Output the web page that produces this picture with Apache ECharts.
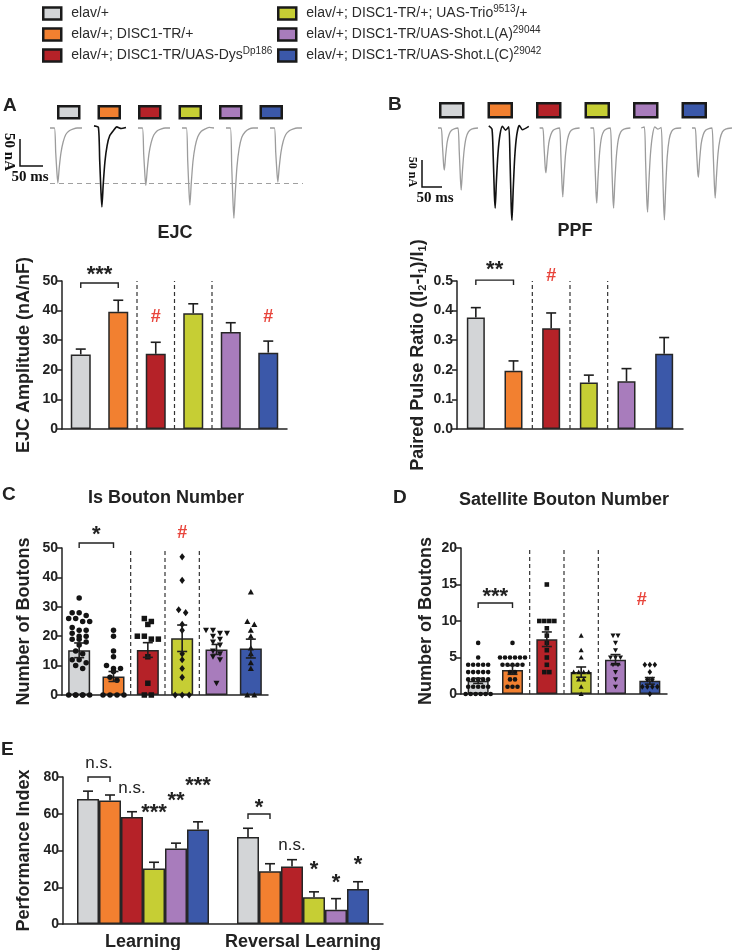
<!DOCTYPE html>
<html>
<head>
<meta charset="utf-8">
<script src="https://cdn.jsdelivr.net/npm/echarts@6/dist/echarts.min.js"></script>
<style>
html, body { margin: 0; padding: 0; background: #fff; }
#chart { width: 741px; height: 950px; }
</style>
</head>
<body>
<div id="chart"></div>
<script>
const FONT = 'Liberation Sans, Arial, sans-serif';

// genotypes (^...^ marks a superscript)
const genotypes = [
  'elav/+',
  'elav/+; DISC1-TR/+',
  'elav/+; DISC1-TR/UAS-Dys^Dp186^',
  'elav/+; DISC1-TR/+; UAS-Trio^9513^/+',
  'elav/+; DISC1-TR/UAS-Shot.L(A)^29044^',
  'elav/+; DISC1-TR/UAS-Shot.L(C)^29042^'
];
const palette = ['#d3d5d7', '#f28030', '#b52228', '#c6ce34', '#a87cbc', '#3b58a9'];

// A - EJC amplitude (nA/nF)
const ejcMean = [25.2, 39.6, 25.4, 39.1, 32.8, 25.8];
const ejcSem = [1.8, 3.9, 3.9, 3.2, 3.1, 3.9];
// A - example traces (ms, nA)
const ejcTime = [0, 10, 13, 16, 18, 21, 25, 30, 36, 44, 52, 62, 73];
const ejcTraces = [
  [0, 0, -45, -85, -102, -74, -46, -26, -12, -5, -2, 0, 0],
  [4, 1, -60, -120, -146, -105, -62, -32, -14, -5, 2, -1, 1],
  [0, 0, -48, -90, -106, -78, -48, -27, -13, -5, -2, 0, 0],
  [0, 0, -60, -118, -143, -104, -62, -34, -16, -6, -2, 1, 0],
  [0, 0, -70, -138, -167, -122, -72, -38, -17, -7, -2, 0, 0],
  [0, 0, -44, -84, -100, -73, -45, -25, -12, -5, -2, 0, 0]
];

// B - paired pulse ratio
const ppfMean = [0.377, 0.197, 0.340, 0.157, 0.161, 0.254];
const ppfSem = [0.033, 0.033, 0.052, 0.025, 0.043, 0.055];
const ppfTime = [0, 8, 11, 14, 16, 19, 23, 28, 34, 42, 50, 53, 56, 58, 61, 65, 70, 76, 84, 100];
const ppfTraces = [
  [0, 0, -30, -65, -75, -50, -25, -11, -4, -1, 0, -40, -90, -111, -78, -42, -18, -7, -2, 0],
  [4, -2, -50, -120, -143, -95, -45, -12, 3, -4, 2, -55, -140, -165, -110, -50, -12, 5, -3, 3],
  [0, 0, -32, -70, -80, -54, -27, -12, -4, -1, 0, -45, -100, -123, -86, -46, -20, -7, -2, 0],
  [0, 0, -55, -115, -134, -90, -44, -16, -5, -1, 0, -55, -120, -143, -98, -50, -20, -7, -2, 0],
  [0, 2, -60, -128, -150, -100, -48, -14, 2, -2, 1, -60, -135, -164, -110, -52, -20, -6, -1, 0],
  [0, 0, -35, -76, -88, -58, -28, -12, -4, -1, 0, -45, -102, -125, -88, -46, -20, -7, -2, 0]
];

// C - Is bouton number
const isMean = [15.2, 6.3, 15.3, 19.3, 15.5, 15.8];
const isSem = [2.5, 1.7, 2.5, 4.5, 1.7, 3.2];
const isPoints = [
  [33, 28, 28, 27, 26, 26, 25, 25, 23, 22, 22, 21, 20, 20, 19, 19, 18, 17, 15, 14, 12, 12, 11, 10, 9, 0, 0, 0, 0, 0, 0],
  [22, 20, 15, 13, 10, 9, 9, 8, 6, 5, 0, 0, 0, 0],
  [26, 25, 24, 20, 20, 19, 19, 13, 4, 0, 0],
  [47, 39, 29, 28, 24, 22, 14, 12, 9, 6, 0, 0, 0],
  [22, 22, 21, 21, 20, 19, 18, 17, 15, 14, 13, 12, 4],
  [35, 25, 24, 22, 20, 16, 14, 11, 9, 0, 0]
];

// D - satellite bouton number
const satMean = [1.8, 3.3, 7.5, 3.0, 4.7, 1.8];
const satSem = [0.35, 0.6, 1.0, 0.7, 0.7, 0.45];
const satPoints = [
  [7, 5, 4, 4, 4, 4, 4, 3, 3, 3, 3, 3, 2, 2, 2, 2, 2, 1, 1, 1, 1, 1, 0, 0, 0, 0, 0, 0],
  [7, 5, 5, 5, 5, 5, 5, 4, 4, 4, 4, 4, 3, 3, 2, 2, 1, 1, 1],
  [15, 10, 10, 10, 10, 9, 8, 7, 6, 5, 4, 3, 3],
  [8, 6, 5, 3, 3, 3, 3, 2, 2, 1, 0],
  [8, 8, 7, 6, 5, 5, 5, 4, 4, 3, 2, 1],
  [4, 4, 4, 3, 2, 2, 1, 1, 1, 1, 0]
];

// E - olfactory learning
const phases = ['Learning', 'Reversal Learning'];
const piMean = [[68.0, 47.3], [67.2, 28.7], [58.2, 31.3], [30.2, 14.6], [41.1, 7.7], [51.4, 19.0]];
const piSem = [[4.3, 4.8], [3.0, 4.1], [2.9, 3.7], [3.4, 2.9], [2.9, 6.1], [4.2, 4.0]];

// significance marks (value units)
const ejcNotes = [{c1: 0, c2: 1, y: 49.3, ty: 52.0, text: '***'}, {c: 2, ty: 37.8, text: '#'}, {c: 5, ty: 37.8, text: '#'}];
const ppfNotes = [{c1: 0, c2: 1, y: 0.503, ty: 0.537, text: '**'}, {c: 2, ty: 0.517, text: '#'}];
const isNotes = [{c1: 0, c2: 1, y: 51.7, ty: 54.4, text: '*'}, {c: 3, ty: 55.1, text: '#'}];
const satNotes = [{c1: 0, c2: 1, y: 12.47, ty: 13.3, text: '***'}, {c: 5, dx: -8, ty: 12.9, text: '#'}];
const piNotes = [
  {c1: 0, g1: 0, c2: 0, g2: 1, y: 80, ty: 87.3, text: 'n.s.'},
  {c: 0, g: 2, ty: 73.7, text: 'n.s.'}, {c: 0, g: 3, ty: 60.4, text: '***'},
  {c: 0, g: 4, ty: 66.9, text: '**'}, {c: 0, g: 5, ty: 75.1, text: '***'},
  {c1: 1, g1: 0, c2: 1, g2: 1, y: 59.9, ty: 63.1, text: '*'},
  {c: 1, g: 2, ty: 42.7, text: 'n.s.'}, {c: 1, g: 3, ty: 29.4, text: '*'},
  {c: 1, g: 4, ty: 22.3, text: '*'}, {c: 1, g: 5, ty: 32.1, text: '*'}
];
const dividerAfter = [1, 2, 3];

const grids = [];
const xAxes = [];
const yAxes = [];
const series = [];

function richName(name) {
  return name.split('^').map((p, i) => (i % 2 ? '{sup|' + p + '}' : p)).join('');
}

function catAxis(k, data, showLabel) {
  return {
    type: 'category', gridIndex: k, data,
    axisLine: {lineStyle: {color: '#222', width: 1.5}},
    axisTick: {alignWithLabel: true, length: 5, lineStyle: {color: '#222', width: 1.5}},
    axisLabel: {show: showLabel, fontSize: 18, fontWeight: 'bold', color: '#222', margin: 9, interval: 0},
    splitLine: {show: false}
  };
}

function valAxis(k, o) {
  return {
    type: 'value', gridIndex: k, min: 0, max: o.max, interval: o.step,
    name: o.name, nameLocation: 'middle', nameGap: o.gap, nameMoveOverlap: false,
    nameTextStyle: {fontSize: 18, fontWeight: 'bold', color: '#222', fontFamily: FONT,
      rich: {sub: {fontSize: 11, fontWeight: 'bold', color: '#222', padding: [8, 0, 0, 0]}}},
    axisLine: {show: true, lineStyle: {color: '#222', width: 1.5}},
    axisTick: {show: true, length: 5, lineStyle: {color: '#222', width: 1.5}},
    axisLabel: {fontSize: 14, fontWeight: 'bold', color: '#222', margin: 4, formatter: o.fmt},
    splitLine: {show: false}
  };
}

function xOf(api, c, g, barW) {
  return api.coord([c, 0])[0] + (g == null ? 0 : (g - 2.5) * barW);
}

function errorSeries(k, rows, both, barW) {
  return {
    type: 'custom', xAxisIndex: k, yAxisIndex: k, z: 4, silent: true, data: rows,
    renderItem(params, api) {
      const c = api.value(0), m = api.value(1), s = api.value(2);
      const x = xOf(api, c, barW ? api.value(3) : null, barW);
      const yt = api.coord([c, m + s])[1];
      const yb = api.coord([c, both ? m - s : m])[1];
      const st = {stroke: '#1e1e1e', lineWidth: 1.6};
      const kids = [
        {type: 'line', shape: {x1: x, y1: yt, x2: x, y2: yb}, style: st},
        {type: 'line', shape: {x1: x - 5, y1: yt, x2: x + 5, y2: yt}, style: st}
      ];
      if (both) kids.push({type: 'line', shape: {x1: x - 5, y1: yb, x2: x + 5, y2: yb}, style: st});
      return {type: 'group', children: kids};
    }
  };
}

function dividerSeries(k, max) {
  return {
    type: 'custom', xAxisIndex: k, yAxisIndex: k, z: 1, silent: true,
    data: dividerAfter.map(b => [b, max]),
    renderItem(params, api) {
      const b = api.value(0);
      const x = (api.coord([b, 0])[0] + api.coord([b + 1, 0])[0]) / 2;
      return {
        type: 'line',
        shape: {x1: x, y1: api.coord([b, 0])[1], x2: x, y2: api.coord([b, max])[1]},
        style: {stroke: '#333', lineWidth: 1.2, lineDash: [4, 3]}
      };
    }
  };
}

function noteSeries(k, notes, barW) {
  return {
    type: 'custom', xAxisIndex: k, yAxisIndex: k, z: 5, silent: true,
    data: notes.map(n => [n.c != null ? n.c : n.c1, n.ty]),
    renderItem(params, api) {
      const n = notes[params.dataIndex];
      const kids = [];
      let x;
      if (n.c1 != null) {
        const x1 = xOf(api, n.c1, n.g1, barW), x2 = xOf(api, n.c2, n.g2, barW);
        const y = api.coord([n.c1, n.y])[1];
        kids.push({type: 'polyline', shape: {points: [[x1, y + 5], [x1, y], [x2, y], [x2, y + 5]]},
          style: {stroke: '#222', lineWidth: 1.4, fill: null}});
        x = (x1 + x2) / 2;
      } else {
        x = xOf(api, n.c, n.g, barW) + (n.dx || 0);
      }
      const isHash = n.text === '#', isNs = n.text === 'n.s.';
      kids.push({type: 'text', x, y: api.coord([0, n.ty])[1], style: {
        text: n.text, align: 'center', verticalAlign: 'middle', fontFamily: FONT,
        fontSize: isHash ? 18 : isNs ? 17 : 22, fontWeight: isNs ? 'normal' : 'bold',
        fill: isHash ? '#e8453c' : '#222'}});
      return {type: 'group', children: kids};
    }
  };
}

function swarm(values, tol, maxRow) {
  const sorted = values.slice().sort((a, b) => b - a);
  const out = [];
  let row = [];
  const flush = () => { row.forEach((v, i) => out.push([v, i - (row.length - 1) / 2])); row = []; };
  sorted.forEach(v => {
    if (row.length && (row[0] - v > tol || row.length >= maxRow)) flush();
    row.push(v);
  });
  flush();
  return out;
}

function symbolShape(name, cx, cy, r) {
  const style = {fill: '#141414'};
  if (name === 'circle') return {type: 'circle', shape: {cx, cy, r}, style};
  if (name === 'square') return {type: 'rect', shape: {x: cx - r, y: cy - r, width: 2 * r, height: 2 * r}, style};
  let pts;
  if (name === 'diamond') pts = [[cx, cy - r * 1.3], [cx + r, cy], [cx, cy + r * 1.3], [cx - r, cy]];
  else if (name === 'up') pts = [[cx, cy - r * 1.1], [cx + r * 1.1, cy + r * 0.9], [cx - r * 1.1, cy + r * 0.9]];
  else pts = [[cx, cy + r * 1.1], [cx + r * 1.1, cy - r * 0.9], [cx - r * 1.1, cy - r * 0.9]];
  return {type: 'polygon', shape: {points: pts}, style};
}

function swarmSeries(k, points, shapes, tol, maxRow, dx, size) {
  const rows = [];
  points.forEach((vals, c) => swarm(vals, tol, maxRow).forEach(([v, slot]) => rows.push([c, v, slot])));
  return {
    type: 'custom', xAxisIndex: k, yAxisIndex: k, z: 3, silent: true, data: rows,
    renderItem(params, api) {
      const c = api.value(0);
      const p = api.coord([c, api.value(1)]);
      return symbolShape(shapes[c], p[0] + api.value(2) * dx, p[1], size / 2);
    }
  };
}

function barPanel(k, box, mean, sem, o) {
  grids.push(box);
  xAxes.push(catAxis(k, genotypes, false));
  yAxes.push(valAxis(k, o));
  series.push({
    type: 'bar', xAxisIndex: k, yAxisIndex: k, barWidth: o.barW, z: 2, silent: true,
    data: mean.map((v, i) => ({value: v, itemStyle: {color: palette[i]}})),
    itemStyle: {borderColor: '#262626', borderWidth: 1.5}
  });
  series.push(dividerSeries(k, o.max));
  if (o.points) series.push(swarmSeries(k, o.points, o.shapes, o.tol, o.maxRow, o.dx, o.size));
  series.push(errorSeries(k, mean.map((m, i) => [i, m, sem[i]]), o.both, 0));
  series.push(noteSeries(k, o.notes, 0));
}

barPanel(0, {left: 62, top: 281, width: 225, height: 148}, ejcMean, ejcSem,
  {max: 50, step: 10, name: 'EJC Amplitude (nA/nF)', gap: 29, barW: 20, both: false, notes: ejcNotes});
barPanel(1, {left: 457, top: 281, width: 226, height: 148}, ppfMean, ppfSem,
  {max: 0.5, step: 0.1, name: 'Paired Pulse Ratio ((I{sub|2}-I{sub|1})/I{sub|1})', gap: 29, barW: 18,
   both: false, notes: ppfNotes, fmt: v => v.toFixed(1)});
barPanel(2, {left: 62, top: 548, width: 206, height: 147}, isMean, isSem,
  {max: 50, step: 10, name: 'Number of Boutons', gap: 29, barW: 22, both: true, notes: isNotes,
   points: isPoints, shapes: ['circle', 'circle', 'square', 'diamond', 'down', 'up'], tol: 1.6, maxRow: 4, dx: 7, size: 5.5});
barPanel(3, {left: 461, top: 548, width: 206, height: 146}, satMean, satSem,
  {max: 20, step: 5, name: 'Number of Boutons', gap: 26, barW: 21, both: true, notes: satNotes,
   points: satPoints, shapes: ['circle', 'circle', 'square', 'up', 'down', 'diamond'], tol: 0, maxRow: 6, dx: 5, size: 4.6});

// E
grids.push({left: 63, top: 777, width: 320, height: 147});
xAxes.push(catAxis(4, phases, true));
yAxes.push(valAxis(4, {max: 80, step: 20, name: 'Performance Index', gap: 30}));
genotypes.forEach((name, g) => series.push({
  type: 'bar', name, xAxisIndex: 4, yAxisIndex: 4, barWidth: 22, barGap: '0%', z: 2, silent: true,
  data: piMean[g], itemStyle: {color: palette[g], borderColor: '#262626', borderWidth: 1.5}
}));
const piRows = [];
piMean.forEach((arr, g) => arr.forEach((m, c) => piRows.push([c, m, piSem[g][c], g])));
series.push(errorSeries(4, piRows, false, 22));
series.push(noteSeries(4, piNotes, 22));

// example traces
function traceGrid(box, time, trace, i, yMin) {
  const k = grids.length;
  grids.push(box);
  xAxes.push({type: 'value', gridIndex: k, min: 0, max: time[time.length - 1], show: false});
  yAxes.push({type: 'value', gridIndex: k, min: yMin, max: 5, show: false});
  series.push({
    type: 'line', xAxisIndex: k, yAxisIndex: k, silent: true, showSymbol: false, smooth: 0.2,
    data: time.map((t, j) => [t, trace[j]]),
    lineStyle: {color: i === 1 ? '#111' : '#9c9c9c', width: i === 1 ? 1.6 : 1.3}
  });
  return k;
}
ejcTraces.forEach((tr, i) => traceGrid({left: 50 + 44 * i, top: 125.3, width: 32, height: 97.2}, ejcTime, tr, i, -175));
ppfTraces.forEach((tr, i) => traceGrid({left: 438 + 50.8 * i, top: 125.2, width: 40, height: 100.8}, ppfTime, tr, i, -175));

// dashed reference at the control EJC peak
const refK = grids.length;
grids.push({left: 50, top: 125.3, width: 253, height: 97.2});
xAxes.push({type: 'value', gridIndex: refK, min: 0, max: 1, show: false});
yAxes.push({type: 'value', gridIndex: refK, min: -175, max: 5, show: false});
series.push({
  type: 'line', xAxisIndex: refK, yAxisIndex: refK, data: [], silent: true,
  markLine: {silent: true, symbol: 'none', label: {show: false},
    lineStyle: {type: [5, 4], color: '#a0a0a0', width: 1.2},
    data: [{yAxis: Math.min(...ejcTraces[0])}]}
});

grids.forEach(g => { g.containLabel = false; g.outerBoundsMode = 'none'; });

function txt(x, y, text, size, extra) {
  return Object.assign({type: 'text', x, y, silent: true, style: Object.assign({
    text, fontSize: size, fontWeight: 'bold', fontFamily: FONT, fill: '#222',
    align: 'center', verticalAlign: 'middle'}, extra || {})});
}
const serif = {fontFamily: 'Liberation Serif, Times New Roman, serif', fill: '#111'};

const boxLegend = {
  orient: 'horizontal', selectedMode: false, padding: 0, icon: 'rect',
  itemStyle: {borderColor: '#1a1a1a', borderWidth: 2.5},
  formatter: () => '', textStyle: {fontSize: 10}
};
const keyLegend = {
  orient: 'vertical', selectedMode: false, padding: 0, icon: 'rect', top: 3,
  itemWidth: 18, itemHeight: 12, itemGap: 0,
  itemStyle: {borderColor: '#1a1a1a', borderWidth: 2.5},
  formatter: richName,
  textStyle: {fontSize: 14, color: '#2b2b2b', fontFamily: FONT, lineHeight: 21, padding: [0, 0, 0, 5],
    rich: {sup: {fontSize: 10, lineHeight: 10, color: '#2b2b2b', padding: [0, 0, 9, 0]}}}
};

const option = {
  animation: false,
  backgroundColor: '#fff',
  textStyle: {fontFamily: FONT},
  legend: [
    Object.assign({}, keyLegend, {left: 42, data: genotypes.slice(0, 3)}),
    Object.assign({}, keyLegend, {left: 277, data: genotypes.slice(3)}),
    Object.assign({}, boxLegend, {left: 57, top: 105, itemWidth: 21, itemHeight: 12, itemGap: 17, data: genotypes}),
    Object.assign({}, boxLegend, {left: 439, top: 102, itemWidth: 23, itemHeight: 14, itemGap: 23, data: genotypes})
  ],
  grid: grids,
  xAxis: xAxes,
  yAxis: yAxes,
  series,
  graphic: [
    txt(3, 106, 'A', 19, {align: 'left'}),
    txt(388, 105, 'B', 19, {align: 'left'}),
    txt(2, 495, 'C', 19, {align: 'left'}),
    txt(393, 498, 'D', 19, {align: 'left'}),
    txt(1, 750, 'E', 19, {align: 'left'}),
    txt(175, 233, 'EJC', 18),
    txt(575, 231, 'PPF', 18),
    txt(166, 498, 'Is Bouton Number', 18),
    txt(564, 500, 'Satellite Bouton Number', 18),
    {type: 'polyline', silent: true, shape: {points: [[20, 139], [20, 166], [43, 166]]}, style: {stroke: '#111', lineWidth: 1.5, fill: null}},
    txt(9, 152, '50 nA', 15, Object.assign({}, serif)),
    txt(30, 177, '50 ms', 15, Object.assign({}, serif)),
    {type: 'polyline', silent: true, shape: {points: [[422, 160], [422, 187], [442, 187]]}, style: {stroke: '#111', lineWidth: 1.5, fill: null}},
    txt(412, 172, '50 nA', 12, Object.assign({}, serif)),
    txt(435, 198, '50 ms', 15, Object.assign({}, serif))
  ]
};
option.graphic[10].rotation = -Math.PI / 2;
option.graphic[13].rotation = -Math.PI / 2;

const chart = echarts.init(document.getElementById('chart'), null, {renderer: 'canvas'});
chart.setOption(option);
</script>
</body>
</html>
